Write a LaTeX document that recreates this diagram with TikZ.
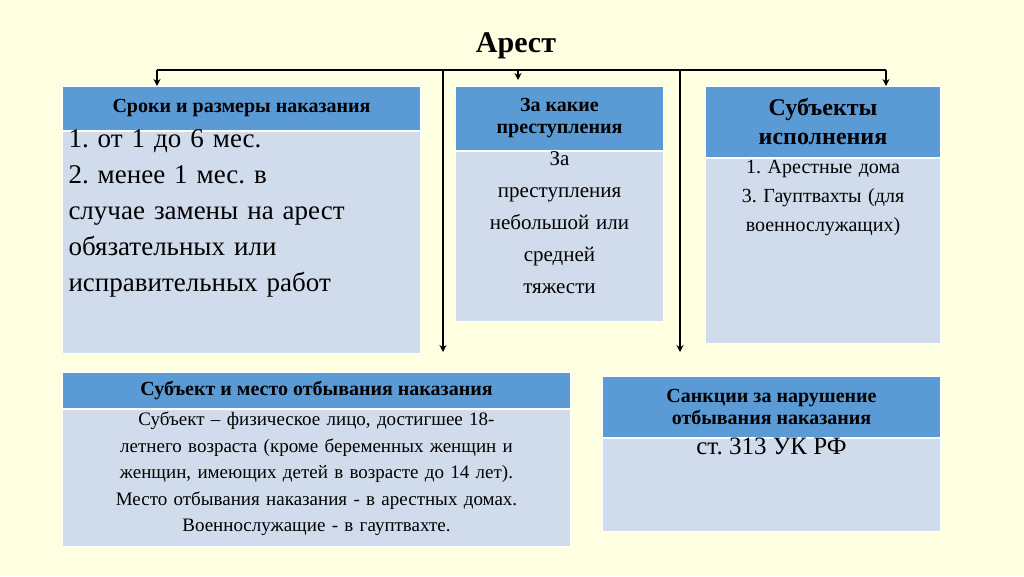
\documentclass[tikz,border=0pt]{standalone}
\usepackage{fontspec}
\setmainfont{Liberation Serif}
\frenchspacing
\definecolor{bgcol}{RGB}{255,255,225}
\definecolor{headcol}{RGB}{91,155,213}
\definecolor{bodycol}{RGB}{208,220,236}
\tikzset{
  head/.style={fill=headcol, draw=white, line width=1pt, inner sep=2pt, align=center, font=\fontsize{20}{22}\selectfont\bfseries},
  body/.style={fill=bodycol, draw=white, line width=1pt, anchor=north},
  txt/.style={inner sep=4pt, align=center, anchor=north},
  link/.style={line width=2pt, -{Stealth[length=7pt,width=7pt]}}
}
\usetikzlibrary{arrows.meta}
\begin{document}
\begin{tikzpicture}[x=1pt,y=-1pt]
  \fill[bgcol] (0,0) rectangle (1024,576);
  \useasboundingbox (0,0) rectangle (1024,576);
  \node[font=\fontsize{30}{32}\selectfont\bfseries] (arest) at (516,46) {Арест};
  % boxes
  \node[head, minimum width=358, minimum height=44, anchor=north west] (h1) at (62,86) {Сроки и размеры наказания};
  \node[body, minimum width=358, minimum height=222] (b1) at (h1.south) {};
  \node[txt, text width=346, align=left, font=\fontsize{27}{36}\selectfont] (t1) at ([yshift=6]b1.north) {1. от 1 до 6 мес.\\2. менее 1 мес. в\\случае замены на арест\\обязательных или\\исправительных работ};
  \node[head, minimum width=208, minimum height=64, anchor=north west] (h2) at (455,86) {За какие\\преступления};
  \node[body, minimum width=208, minimum height=170] (b2) at (h2.south) {};
  \node[txt, text width=200, font=\fontsize{21}{32}\selectfont] (t2) at ([yshift=4]b2.north) {За\\преступления\\небольшой или\\средней\\тяжести};
  \node[head, minimum width=235, minimum height=71, anchor=north west, font=\fontsize{24}{29}\selectfont\bfseries] (h3) at (705,86) {Субъекты\\исполнения};
  \node[body, minimum width=235, minimum height=185] (b3) at (h3.south) {};
  \node[txt, text width=230, font=\fontsize{20}{29}\selectfont] (t3) at ([yshift=2]b3.north) {1. Арестные дома\\3. Гауптвахты (для\\военнослужащих)};
  \node[head, minimum width=508, minimum height=36, anchor=north west] (h4) at (62,372) {Субъект и место отбывания наказания};
  \node[body, minimum width=508, minimum height=137] (b4) at (h4.south) {};
  \node[txt, text width=500, font=\fontsize{19}{26.5}\selectfont] (t4) at ([yshift=1]b4.north) {Субъект – физическое лицо, достигшее 18-\\летнего возраста (кроме беременных женщин и\\женщин, имеющих детей в возрасте до 14 лет).\\Место отбывания наказания - в арестных домах.\\Военнослужащие - в гауптвахте.};
  \node[head, minimum width=338, minimum height=61, anchor=north west] (h5) at (602,376) {Санкции за нарушение\\отбывания наказания};
  \node[body, minimum width=338, minimum height=93] (b5) at (h5.south) {};
  \node[txt, font=\fontsize{25}{28}\selectfont] (t5) at ([yshift=4]b5.north) {ст. 313 УК РФ};
  % connectors
  \coordinate (left) at (157,70);
  \coordinate (right) at (886,70);
  \draw[line width=2pt] (left) -- (right);
  \draw[link] (left) -- (left |- h1.north);
  \draw[link] (right) -- (right |- h3.north);
  \draw[link] (518,70) -- (518,80);
  \draw[link] (443,70) -- (443,352);
  \draw[link] (680,70) -- (680,352);
\end{tikzpicture}
\end{document}
